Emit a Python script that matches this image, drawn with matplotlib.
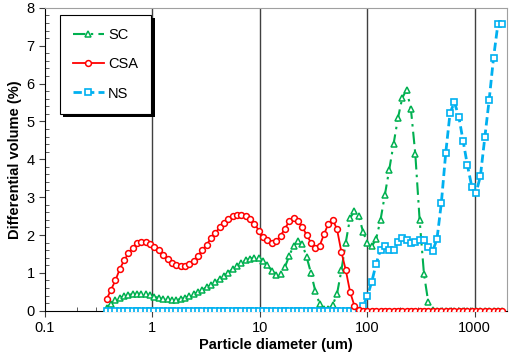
import matplotlib
matplotlib.use("Agg")
import matplotlib.pyplot as plt
import matplotlib.patheffects as pe
from matplotlib.ticker import FixedLocator, FixedFormatter, MultipleLocator

plt.rcParams["font.family"] = ["Liberation Sans", "DejaVu Sans"]

# particle size channels (um)
diameter = [
    0.375, 0.412, 0.452, 0.496, 0.545, 0.598, 0.656, 0.720, 0.790, 0.868,
    0.952, 1.045, 1.147, 1.259, 1.382, 1.517, 1.666, 1.828, 2.007, 2.203,
    2.418, 2.655, 2.914, 3.199, 3.511, 3.854, 4.231, 4.644, 5.098, 5.596,
    6.143, 6.743, 7.401, 8.124, 8.918, 9.789, 10.75, 11.79, 12.95, 14.21,
    15.60, 17.12, 18.79, 20.63, 22.65, 24.86, 27.29, 29.95, 32.88, 36.09,
    39.62, 43.49, 47.74, 52.40, 57.52, 63.13, 69.30, 76.07, 83.50, 91.66,
    100.6, 110.4, 121.2, 133.1, 146.1, 160.3, 176.0, 193.2, 212.1, 232.8,
    255.5, 280.5, 307.9, 338.0, 371.0, 407.2, 447.0, 490.7, 538.6, 591.2,
    649.0, 712.4, 782.0, 858.4, 942.2, 1034, 1135, 1246, 1368, 1502,
    1648, 1809,
]

sc = [
    0.08, 0.19, 0.28, 0.34, 0.39, 0.42, 0.44, 0.45, 0.45, 0.44,
    0.41, 0.37, 0.34, 0.31, 0.30, 0.29, 0.29, 0.31, 0.34, 0.39,
    0.44, 0.50, 0.56, 0.62, 0.68, 0.76, 0.84, 0.92, 1.01, 1.10,
    1.18, 1.26, 1.33, 1.38, 1.40, 1.39, 1.32, 1.20, 1.06, 0.95,
    0.96, 1.15, 1.45, 1.72, 1.84, 1.76, 1.42, 1.00, 0.52, 0.18,
    0.06, 0.05, 0.15, 0.45, 1.07, 1.80, 2.45, 2.63, 2.50, 2.08,
    1.78, 1.70, 1.90, 2.40, 3.06, 3.72, 4.40, 5.08, 5.62, 5.84,
    5.32, 4.15, 2.40, 0.97, 0.22, 0.02, 0.0, 0.0, 0.0, 0.0,
    0.0, 0.0, 0.0, 0.0, 0.0, 0.0, 0.0, 0.0, 0.0, 0.0,
    0.0, 0.0,
]

csa = [
    0.31, 0.56, 0.80, 1.10, 1.33, 1.52, 1.67, 1.78, 1.82, 1.81,
    1.76, 1.69, 1.60, 1.48, 1.37, 1.27, 1.20, 1.17, 1.18, 1.23,
    1.32, 1.45, 1.60, 1.75, 1.91, 2.06, 2.20, 2.32, 2.42, 2.50,
    2.54, 2.54, 2.50, 2.42, 2.30, 2.12, 1.96, 1.86, 1.80, 1.84,
    1.98, 2.17, 2.36, 2.44, 2.38, 2.22, 2.00, 1.80, 1.65, 1.72,
    2.02, 2.30, 2.41, 2.15, 1.55, 1.08, 0.50, 0.13, 0.02, 0.0,
    0.0, 0.0, 0.0, 0.0, 0.0, 0.0, 0.0, 0.0, 0.0, 0.0,
    0.0, 0.0, 0.0, 0.0, 0.0, 0.0, 0.0, 0.0, 0.0, 0.0,
    0.0, 0.0, 0.0, 0.0, 0.0, 0.0, 0.0, 0.0, 0.0, 0.0,
    0.0, 0.0,
]

ns = [
    0.0, 0.0, 0.0, 0.0, 0.0, 0.0, 0.0, 0.0, 0.0, 0.0,
    0.0, 0.0, 0.0, 0.0, 0.0, 0.0, 0.0, 0.0, 0.0, 0.0,
    0.0, 0.0, 0.0, 0.0, 0.0, 0.0, 0.0, 0.0, 0.0, 0.0,
    0.0, 0.0, 0.0, 0.0, 0.0, 0.0, 0.0, 0.0, 0.0, 0.0,
    0.0, 0.0, 0.0, 0.0, 0.0, 0.0, 0.0, 0.0, 0.0, 0.0,
    0.0, 0.0, 0.0, 0.0, 0.0, 0.0, 0.0, 0.0, 0.0, 0.12,
    0.39, 0.77, 1.24, 1.61, 1.70, 1.61, 1.61, 1.81, 1.93, 1.86,
    1.79, 1.81, 1.88, 1.86, 1.69, 1.57, 1.90, 2.85, 4.16, 5.22,
    5.51, 5.13, 4.49, 3.84, 3.28, 3.11, 3.57, 4.58, 5.57, 6.68,
    7.56, 7.56,
]

x_ticks = [0.1, 1, 10, 100, 1000]
x_labels = ["0.1", "1", "10", "100", "1000"]

fig = plt.figure(figsize=(5.12, 3.56), dpi=100)
ax = fig.add_axes([0.088, 0.127, 0.902, 0.851])

ax.plot(diameter, sc, color="#00B050", ls=(0, (6, 2.5, 1.2, 2.5)), lw=1.5,
        marker="^", ms=4.5, mfc="white", mec="#00B050", mew=1.1, label="SC", zorder=3)
ax.plot(diameter, ns, color="#00B0F0", ls=(0, (3, 1.5)), lw=2.0,
        marker="s", ms=4.5, mfc="white", mec="#00B0F0", mew=1.2, label="NS", zorder=4)
ax.plot(diameter, csa, color="#FF0000", ls="-", lw=1.3,
        marker="o", ms=4.2, mfc="white", mec="#FF0000", mew=1.1, label="CSA", zorder=5)

ax.set_xscale("log")
ax.set_xlim(0.1, 2000)
ax.set_ylim(0, 8)
ax.xaxis.set_major_locator(FixedLocator(x_ticks))
ax.xaxis.set_major_formatter(FixedFormatter(x_labels))
ax.yaxis.set_major_locator(MultipleLocator(1))
ax.yaxis.set_minor_locator(MultipleLocator(0.2))

for v in x_ticks[1:]:
    ax.axvline(v, color="#404040", lw=1.0, zorder=1)

ax.tick_params(axis="both", which="major", direction="out", length=4,
               labelsize=10.5, color="#404040")
ax.tick_params(axis="both", which="minor", direction="in", length=3, color="#404040")
ax.spines["top"].set_color("#A0A0A0")
ax.spines["right"].set_color("#A0A0A0")

ax.set_xlabel("Particle diameter (um)", fontsize=10.5, fontweight="bold", labelpad=2)
ax.set_ylabel("Differential volume (%)", fontsize=10.5, fontweight="bold", labelpad=3)

handles, labels = ax.get_legend_handles_labels()
order = [0, 2, 1]
leg = ax.legend([handles[i] for i in order], [labels[i] for i in order],
                loc="upper left", bbox_to_anchor=(0.032, 0.977), borderaxespad=0,
                fontsize=10.5, labelspacing=1.05, handlelength=2.1, handletextpad=0.3,
                borderpad=0.9, numpoints=1, fancybox=False, framealpha=1,
                edgecolor="black")
frame = leg.get_frame()
frame.set_linewidth(0.8)
frame.set_path_effects([
    pe.SimplePatchShadow(offset=(2.5, -2.5), shadow_rgbFace="black", alpha=1.0),
    pe.Normal(),
])

fig.savefig("out.png", dpi=100)
